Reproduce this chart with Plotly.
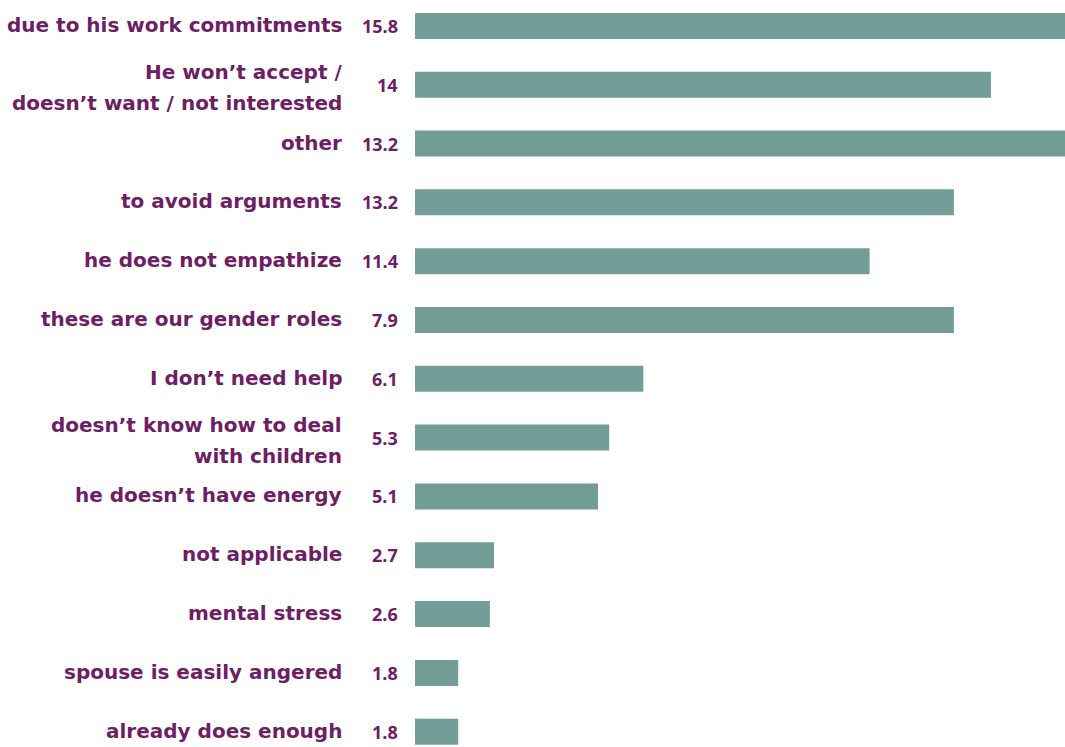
import plotly.graph_objects as go

categories = [
    "due to his work commitments",
    "He won’t accept /<br>doesn’t want / not interested",
    "other",
    "to avoid arguments",
    "he does not empathize",
    "these are our gender roles",
    "I don’t need help",
    "doesn’t know how to deal<br>with children",
    "he doesn’t have energy",
    "not applicable",
    "mental stress",
    "spouse is easily angered",
    "already does enough",
]
bar_values = [15.8, 14.0, 15.8, 13.1, 11.05, 13.1, 5.55, 4.72, 4.45, 1.92, 1.82, 1.05, 1.05]
label_values = ["15.8", "14", "13.2", "13.2", "11.4", "7.9", "6.1", "5.3", "5.1", "2.7", "2.6", "1.8", "1.8"]

PURPLE = "#6e1e64"
TEAL = "#729e97"
FONT = "DejaVu Sans"

fig = go.Figure(go.Bar(
    x=bar_values, y=categories, orientation="h",
    marker=dict(color=TEAL, line=dict(width=0)),
    hoverinfo="skip",
))

annotations = []
for cat, lab in zip(categories, label_values):
    lines = cat.split("<br>")
    if len(lines) == 1:
        shifts = [1]
    else:
        shifts = [13, -18]
    for line, ys in zip(lines, shifts):
        annotations.append(dict(
            x=0, xref="paper", y=cat, yref="y", text=line, showarrow=False,
            xanchor="right", yanchor="middle", align="right", xshift=-71,
            yshift=ys,
            font=dict(family=FONT, size=20, color=PURPLE, weight="bold"),
        ))
    annotations.append(dict(
        x=0, xref="paper", y=cat, yref="y", text=lab, showarrow=False,
        xanchor="right", yanchor="middle", xshift=-15, yshift=0,
        font=dict(family="Open Sans", size=18, color=PURPLE, weight="bold"),
    ))

fig.update_layout(
    width=1065, height=747,
    margin=dict(l=415, r=0, t=0, b=0),
    paper_bgcolor="white", plot_bgcolor="white",
    bargap=0.558, showlegend=False,
    xaxis=dict(range=[0, 15.8], visible=False, fixedrange=True),
    yaxis=dict(categoryorder="array", categoryarray=categories,
               range=[12.26, -0.44], showticklabels=False, showgrid=False,
               zeroline=False, fixedrange=True),
    annotations=annotations,
)

fig.write_html("out.html", config={"displayModeBar": False})
